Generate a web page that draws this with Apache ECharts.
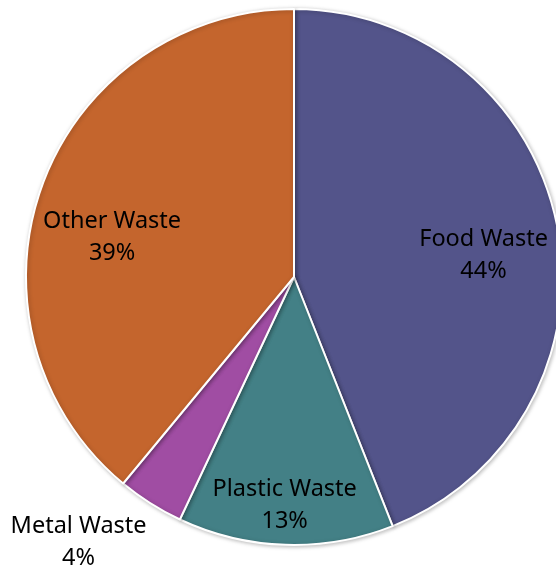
<!DOCTYPE html>
<html>
<head>
<meta charset="utf-8">
<script src="https://cdn.jsdelivr.net/npm/echarts@6/dist/echarts.min.js"></script>
<style>
  html, body { margin: 0; padding: 0; background: #fff; }
  #chart { width: 556px; height: 571px; }
</style>
</head>
<body>
<div id="chart"></div>
<script>
// waste composition, clockwise from 12 o'clock
const categories = ['Food Waste', 'Plastic Waste', 'Metal Waste', 'Other Waste'];
const shares = [44, 13, 4, 39];
const sliceColors = ['#53548A', '#438086', '#A04DA3', '#C4652D'];
// nudge of each label away from the default inside spot (Excel "best fit" look)
const labelShiftX = [55, -5, -142, -53];
const labelShiftY = [4, 91, 150, 7];

const chart = echarts.init(document.getElementById('chart'));

chart.setOption({
  animation: false,
  series: [{
    type: 'pie',
    center: [294, 277],
    radius: 268,
    startAngle: 90,
    clockwise: true,
    data: categories.map((name, i) => ({
      name,
      value: shares[i],
      itemStyle: { color: sliceColors[i] }
    })),
    itemStyle: {
      borderColor: '#fff',
      borderWidth: 2,
      shadowBlur: 4,
      shadowColor: 'rgba(0,0,0,0.25)',
      shadowOffsetX: 1,
      shadowOffsetY: 1
    },
    label: {
      show: true,
      position: 'inside',
      formatter: '{b}\n{d}%',
      fontFamily: 'Noto Sans',
      fontSize: 23.5,
      lineHeight: 32,
      color: '#000',
      align: 'center'
    },
    labelLine: { show: false },
    labelLayout: (params) => ({
      dx: labelShiftX[params.dataIndex],
      dy: labelShiftY[params.dataIndex]
    }),
    emphasis: { disabled: true }
  }]
});
</script>
</body>
</html>
